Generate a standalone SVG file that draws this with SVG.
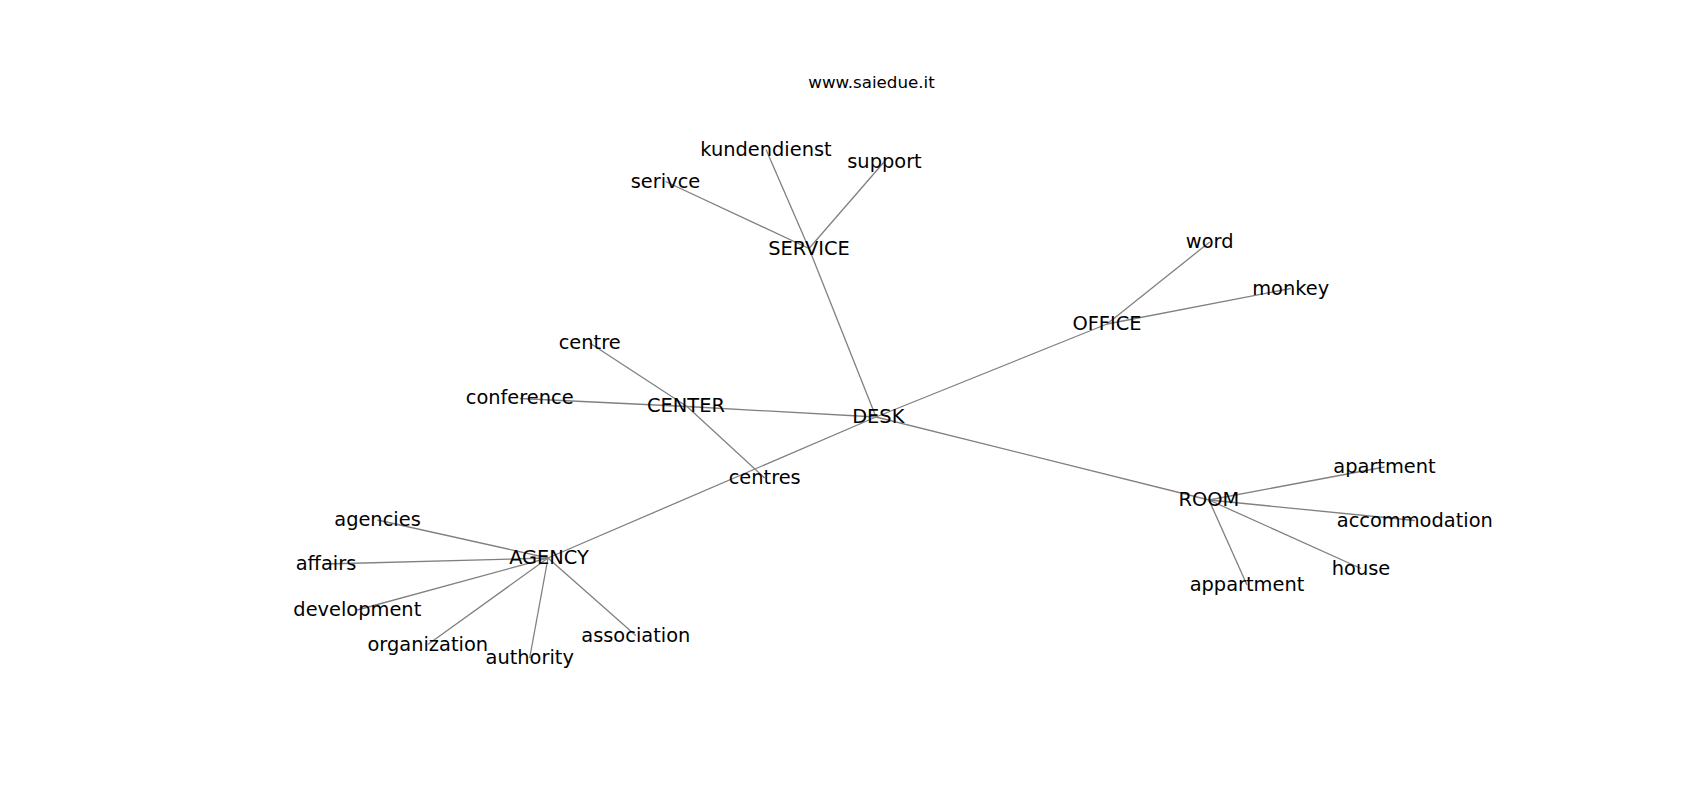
<svg xmlns="http://www.w3.org/2000/svg" width="1700" height="800" viewBox="0 0 1700 800">
<style>
.e{stroke:#808080;stroke-width:1.3;fill:none}
.n text{font-family:"DejaVu Sans",sans-serif;font-size:19.4px;fill:#000;text-anchor:middle}
.t{font-family:"DejaVu Sans",sans-serif;font-size:16.7px;fill:#000;text-anchor:middle}
</style>
<rect width="1700" height="800" fill="#fff"/>
<text class="t" x="871.5" y="88">www.saiedue.it</text>
<g id="edges" class="e">
<line x1="809" y1="248.5" x2="766" y2="149.5"/>
<line x1="809" y1="248.5" x2="884.5" y2="161.5"/>
<line x1="809" y1="248.5" x2="665.5" y2="181.5"/>
<line x1="809" y1="248.5" x2="876" y2="417"/>
<line x1="876" y1="417" x2="687" y2="406.5"/>
<line x1="687" y1="406.5" x2="589.7" y2="343"/>
<line x1="687" y1="406.5" x2="519.7" y2="398.5"/>
<line x1="687" y1="406.5" x2="764.7" y2="478"/>
<line x1="876" y1="417" x2="548" y2="558"/>
<line x1="876" y1="417" x2="1107" y2="324"/>
<line x1="1107" y1="324" x2="1209.7" y2="242"/>
<line x1="1107" y1="324" x2="1290.7" y2="288.5"/>
<line x1="876" y1="417" x2="1209" y2="500"/>
<line x1="1209" y1="500" x2="1384.5" y2="467"/>
<line x1="1209" y1="500" x2="1414.8" y2="520.5"/>
<line x1="1209" y1="500" x2="1361" y2="568.5"/>
<line x1="1209" y1="500" x2="1247" y2="585"/>
<line x1="548" y1="558" x2="377.5" y2="520"/>
<line x1="548" y1="558" x2="326" y2="564"/>
<line x1="548" y1="558" x2="357.3" y2="610"/>
<line x1="548" y1="558" x2="427.8" y2="644.5"/>
<line x1="548" y1="558" x2="529.7" y2="658"/>
<line x1="548" y1="558" x2="635.8" y2="635.5"/>
</g>
<g id="SERVICE" class="n"><text x="809" y="254.5">SERVICE</text></g>
<g id="kundendienst" class="n"><text x="766" y="155.5">kundendienst</text></g>
<g id="support" class="n"><text x="884.5" y="167.5">support</text></g>
<g id="serivce" class="n"><text x="665.5" y="187.5">serivce</text></g>
<g id="DESK" class="n"><text x="878.3" y="423">DESK</text></g>
<g id="CENTER" class="n"><text x="686" y="412">CENTER</text></g>
<g id="centre" class="n"><text x="589.7" y="348.8">centre</text></g>
<g id="conference" class="n"><text x="519.7" y="403.8">conference</text></g>
<g id="centres" class="n"><text x="764.7" y="483.8">centres</text></g>
<g id="OFFICE" class="n"><text x="1107" y="329.8">OFFICE</text></g>
<g id="word" class="n"><text x="1209.7" y="247.8">word</text></g>
<g id="monkey" class="n"><text x="1290.7" y="294.5">monkey</text></g>
<g id="ROOM" class="n"><text x="1208.8" y="505.5">ROOM</text></g>
<g id="apartment" class="n"><text x="1384.5" y="472.8">apartment</text></g>
<g id="accommodation" class="n"><text x="1414.8" y="526.5">accommodation</text></g>
<g id="house" class="n"><text x="1361" y="574.5">house</text></g>
<g id="appartment" class="n"><text x="1247" y="591">appartment</text></g>
<g id="AGENCY" class="n"><text x="549" y="563.8">AGENCY</text></g>
<g id="agencies" class="n"><text x="377.5" y="526">agencies</text></g>
<g id="affairs" class="n"><text x="326" y="569.8">affairs</text></g>
<g id="development" class="n"><text x="357.3" y="616">development</text></g>
<g id="organization" class="n"><text x="427.8" y="650.5">organization</text></g>
<g id="authority" class="n"><text x="529.7" y="663.8">authority</text></g>
<g id="association" class="n"><text x="635.8" y="641.5">association</text></g>
</svg>
